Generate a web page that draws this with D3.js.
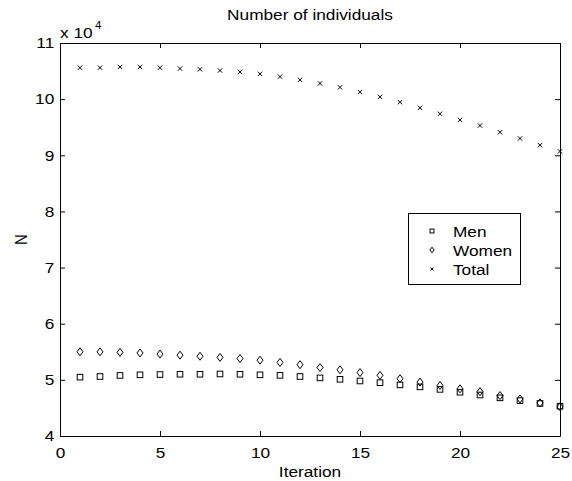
<!DOCTYPE html>
<html>
<head>
<meta charset="utf-8">
<script src="https://cdn.jsdelivr.net/npm/d3@7"></script>
<style>
  html, body { margin: 0; padding: 0; background: #fff; }
  svg { display: block; }
  text { font-family: "Liberation Sans", Arial, Helvetica, sans-serif; fill: #000; }
</style>
</head>
<body>
<script>
// ---- data ----
const iterations = [1,2,3,4,5,6,7,8,9,10,11,12,13,14,15,16,17,18,19,20,21,22,23,24,25];
const men   = [50480,50600,50780,50900,50950,51000,51000,51050,51000,50900,50800,50600,50350,50100,49800,49500,49100,48750,48300,47800,47300,46800,46300,45800,45300];
const women = [55000,55000,54900,54800,54600,54400,54200,54000,53800,53500,53100,52700,52200,51800,51300,50800,50200,49600,49000,48400,47900,47200,46600,45900,45200];
const total = [105600,105600,105740,105740,105600,105440,105300,105100,104850,104500,104000,103430,102800,102100,101250,100400,99460,98450,97400,96300,95300,94100,93000,91800,90700];
const xTicks = [0,5,10,15,20,25];
const yTicks = [40000,50000,60000,70000,80000,90000,100000,110000];
const seriesNames = ["Men","Women","Total"];
const titleText = "Number of individuals";
const xLabel = "Iteration";
const yLabel = "N";

// ---- layout ----
const W = 572, H = 481;
const L = 60, R = 560, T = 43, B = 436;
const FS = 15, SX = 1.15;

const svg = d3.select("body").append("svg").attr("width", W).attr("height", H);

const x = d3.scaleLinear().domain([0, 25]).range([L, R]);
const y = d3.scaleLinear().domain([40000, 110000]).range([B, T]);

function styleAxis(g) {
  g.selectAll(".domain").attr("stroke", "#000").attr("stroke-width", 1);
  g.selectAll(".tick line").attr("stroke", "#000").attr("stroke-width", 1);
  g.selectAll(".tick text").attr("font-size", FS).attr("fill", "#000")
    .attr("font-family", '"Liberation Sans", Arial, Helvetica, sans-serif')
    .attr("transform", `scale(${SX},1)`);
}

// bottom axis
svg.append("g").attr("transform", `translate(0,${B})`)
  .call(d3.axisBottom(x).tickValues(xTicks).tickSizeInner(-5).tickSizeOuter(0).tickPadding(11).tickFormat(d3.format("d")))
  .call(styleAxis);
// top axis (ticks only)
svg.append("g").attr("transform", `translate(0,${T})`)
  .call(d3.axisTop(x).tickValues(xTicks).tickSizeInner(-5).tickSizeOuter(0).tickFormat(""))
  .call(styleAxis);
// left axis
svg.append("g").attr("transform", `translate(${L},0)`)
  .call(d3.axisLeft(y).tickValues(yTicks).tickSizeInner(-5).tickSizeOuter(0).tickPadding(5).tickFormat(d => d / 1e4))
  .call(styleAxis);
// right axis (ticks only)
svg.append("g").attr("transform", `translate(${R},0)`)
  .call(d3.axisRight(y).tickValues(yTicks).tickSizeInner(-5).tickSizeOuter(0).tickFormat(""))
  .call(styleAxis);

// texts
function label(txt, px, py, opts = {}) {
  const t = svg.append("text")
    .attr("transform", `translate(${px},${py}) ${opts.rotate ? "rotate(-90) " : ""}scale(${opts.rotate ? 1 : SX},${opts.rotate ? SX : 1})`)
    .attr("font-size", opts.size || FS)
    .attr("text-anchor", opts.anchor || "middle")
    .text(txt);
  return t;
}
label(titleText, (L + R) / 2, 20);
label(xLabel, (L + R) / 2, 477);
label(yLabel, 27, (T + B) / 2, { rotate: true });
label("x 10", 60, 38, { anchor: "start" });
label("4", 95, 29, { anchor: "start", size: 10 });

// markers
const sym = {
  Men: (g, cx, cy, s) => g.append("rect").attr("x", cx - s * 2.8).attr("y", cy - s * 2.8).attr("width", s * 5.6).attr("height", s * 5.6),
  Women: (g, cx, cy, s) => g.append("path").attr("d", `M${cx},${cy - 4 * s}L${cx + 3 * s},${cy}L${cx},${cy + 4 * s}L${cx - 3 * s},${cy}Z`),
  Total: (g, cx, cy, s) => g.append("path").attr("d", `M${cx - 2.2 * s},${cy - 2.2 * s}L${cx + 2.2 * s},${cy + 2.2 * s}M${cx - 2.2 * s},${cy + 2.2 * s}L${cx + 2.2 * s},${cy - 2.2 * s}`)
};
const dataSets = { Men: men, Women: women, Total: total };

const marks = svg.append("g").attr("fill", "none").attr("stroke", "#000").attr("stroke-width", 1);
seriesNames.forEach(name => {
  const g = marks.append("g").attr("class", "series-" + name);
  dataSets[name].forEach((v, i) => sym[name](g, x(iterations[i]), y(v), 1));
});

// legend
const lg = svg.append("g");
lg.append("rect").attr("x", 408.5).attr("y", 213.5).attr("width", 112).attr("height", 71)
  .attr("fill", "#fff").attr("stroke", "#000").attr("stroke-width", 1);
seriesNames.forEach((name, i) => {
  const cy = 231 + i * 19;
  const mg = lg.append("g").attr("fill", "none").attr("stroke", "#000").attr("stroke-width", 1);
  sym[name](mg, 432, cy, 0.7);
  lg.append("text")
    .attr("transform", `translate(453,${cy + 5.5}) scale(${SX},1)`)
    .attr("font-size", FS).attr("text-anchor", "start").text(name);
});
</script>
</body>
</html>
